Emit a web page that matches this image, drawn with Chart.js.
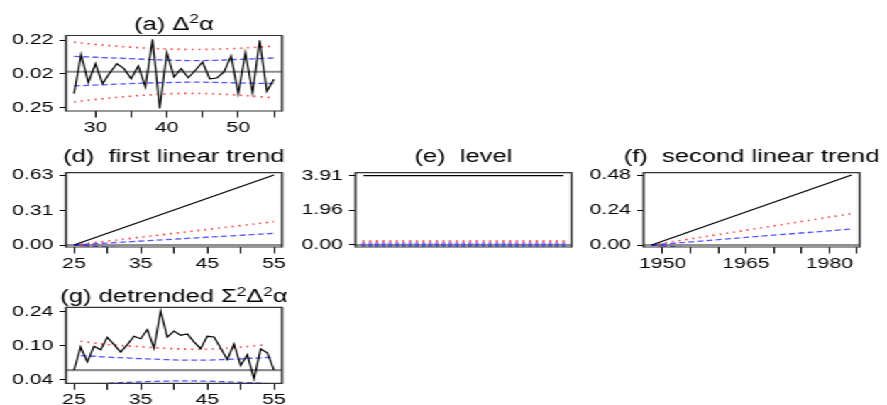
<!DOCTYPE html>
<html><head><meta charset="utf-8">
<script src="https://cdn.jsdelivr.net/npm/chart.js@4.4.1/dist/chart.umd.min.js"></script>
<style>
html,body{margin:0;padding:0;background:#fff;width:887px;height:405px;overflow:hidden}
#wrap{position:absolute;left:0;top:0;width:625px;height:405px;transform-origin:0 0}
#wrap canvas{position:absolute}
</style></head><body><div id="wrap"></div>
<script>
// ---------------- data ----------------
// (a) second differences
const xA = [27,28,29,30,31,32,33,34,35,36,37,38,39,40,41,42,43,44,45,46,47,48,49,50,51,52,53,54,55];
const lineA = [-0.151,0.121,-0.075,0.056,-0.082,-0.008,0.056,0.022,-0.048,0.040,-0.105,0.225,-0.255,0.132,-0.036,0.022,-0.041,0.011,0.068,-0.048,-0.043,-0.001,0.109,-0.151,0.132,-0.146,0.218,-0.135,-0.052];
const redUpA = [0.206,0.200,0.195,0.190,0.186,0.182,0.178,0.174,0.171,0.168,0.165,0.162,0.160,0.158,0.157,0.156,0.155,0.155,0.155,0.156,0.157,0.159,0.161,0.163,0.166,0.169,0.172,0.175,0.178];
const redLoA = [-0.209,-0.203,-0.197,-0.192,-0.187,-0.182,-0.177,-0.173,-0.169,-0.165,-0.162,-0.159,-0.156,-0.153,-0.151,-0.150,-0.150,-0.150,-0.151,-0.152,-0.154,-0.156,-0.159,-0.162,-0.165,-0.169,-0.173,-0.177,-0.181];
const blueUpA = [0.107,0.105,0.103,0.101,0.099,0.097,0.095,0.093,0.091,0.089,0.087,0.085,0.083,0.081,0.080,0.079,0.078,0.078,0.078,0.079,0.080,0.082,0.084,0.086,0.088,0.090,0.092,0.094,0.096];
const blueLoA = [-0.098,-0.096,-0.094,-0.092,-0.090,-0.088,-0.086,-0.084,-0.082,-0.080,-0.078,-0.077,-0.076,-0.075,-0.074,-0.073,-0.072,-0.072,-0.072,-0.073,-0.074,-0.075,-0.076,-0.077,-0.078,-0.079,-0.080,-0.081,-0.082];
const xTicksA = [30,35,40,45,50,55];
const xLabelsA = ['30','','40','','50',''];
const yTicksA = [-0.25,-0.015,0.22];
const yLabelsA = ['0.25','0.02','0.22'];

// (d) first linear trend
const xD = [25,55];
const lineD = [0,0.63];
const redUpD = [0,0.21];
const redLoD = [0,-0.21];
const blueUpD = [0,0.105];
const blueLoD = [0,-0.105];
const xTicksD = [25,30,35,40,45,50,55];
const xLabelsD = ['25','','35','','45','','55'];
const yTicksD = [0,0.31,0.63];
const yLabelsD = ['0.00','0.31','0.63'];

// (e) level
const xLineE = [25,55];
const lineE = [3.91,3.91];
const xE = [25,26,27,28,29,30,31,32,33,34,35,36,37,38,39,40,41,42,43,44,45,46,47,48,49,50,51,52,53,54,55];
const redE = [0.21,0.21,0.21,0.21,0.21,0.21,0.21,0.21,0.21,0.21,0.21,0.21,0.21,0.21,0.21,0.21,0.21,0.21,0.21,0.21,0.21,0.21,0.21,0.21,0.21,0.21,0.21,0.21,0.21,0.21,0.21];
const blueE = [0.01,0.01,0.01,0.01,0.01,0.01,0.01,0.01,0.01,0.01,0.01,0.01,0.01,0.01,0.01,0.01,0.01,0.01,0.01,0.01,0.01,0.01,0.01,0.01,0.01,0.01,0.01,0.01,0.01,0.01,0.01];
const yTicksE = [0,1.96,3.91];
const yLabelsE = ['0.00','1.96','3.91'];

// (f) second linear trend
const xF = [1948,1984];
const lineF = [0,0.48];
const redUpF = [0,0.215];
const redLoF = [0,-0.215];
const blueUpF = [0,0.11];
const blueLoF = [0,-0.11];
const xTicksF = [1950,1955,1960,1965,1970,1975,1980,1985];
const xLabelsF = ['1950','','','1965','','','1980',''];
const yTicksF = [0,0.24,0.48];
const yLabelsF = ['0.00','0.24','0.48'];

// (g) detrended
const xG = [25,26,27,28,29,30,31,32,33,34,35,36,37,38,39,40,41,42,43,44,45,46,47,48,49,50,51,52,53,54,55];
const lineG = [0.000,0.095,0.034,0.098,0.084,0.135,0.105,0.074,0.105,0.139,0.129,0.166,0.091,0.242,0.136,0.160,0.143,0.149,0.116,0.088,0.139,0.136,0.091,0.043,0.108,0.019,0.064,-0.036,0.087,0.071,0.000];
const xRedG = [26,27,28,29,30,31,32,33,34,35,36,37,38,39,40,41,42,43,44,45,46,47,48,49,50,51,52,53,54];
const redUpG = [0.119,0.115,0.112,0.108,0.105,0.103,0.101,0.099,0.098,0.096,0.094,0.092,0.091,0.089,0.088,0.087,0.086,0.086,0.086,0.086,0.087,0.088,0.090,0.092,0.094,0.097,0.100,0.102,0.105];
const redLoG = [-0.119,-0.115,-0.112,-0.108,-0.105,-0.103,-0.101,-0.099,-0.098,-0.096,-0.094,-0.092,-0.091,-0.089,-0.088,-0.087,-0.086,-0.086,-0.086,-0.086,-0.087,-0.088,-0.090,-0.092,-0.094,-0.097,-0.100,-0.102,-0.105];
const xBlueG = [26,27,28,29,30,31,32,33,34,35,36,37,38,39,40,41,42,43,44,45,46,47,48,49,50,51,52,53,54,55];
const blueUpG = [0.060,0.058,0.057,0.055,0.054,0.052,0.051,0.050,0.048,0.047,0.046,0.045,0.044,0.043,0.042,0.041,0.041,0.041,0.041,0.041,0.042,0.043,0.044,0.045,0.046,0.048,0.049,0.050,0.052,0.054];
const blueLoG = [-0.062,-0.060,-0.058,-0.056,-0.054,-0.052,-0.051,-0.050,-0.049,-0.048,-0.047,-0.046,-0.045,-0.045,-0.044,-0.044,-0.044,-0.044,-0.045,-0.045,-0.046,-0.047,-0.048,-0.049,-0.050,-0.051,-0.052,-0.053,-0.055,-0.057];
const xTicksG = [25,30,35,40,45,50,55];
const xLabelsG = ['25','','35','','45','','55'];
const yTicksG = [-0.04,0.10,0.24];
const yLabelsG = ['0.04','0.10','0.24'];

// ---------------- layout / style ----------------
const S = 887/625;               // horizontal stretch of the whole figure
const U = v => v / S;
const YW = 46.5;                 // y-axis band width (unscaled)
const CW = 250;                  // canvas width (unscaled)
const FONT = '"Liberation Sans", Arial, sans-serif';
const wrap = document.getElementById('wrap');
wrap.style.transform = 'scaleX(' + S + ')';

const BLACK = {borderColor:'#000', borderWidth:1.2, pointRadius:0, tension:0, order:0};
const RED = {borderColor:'rgba(255,25,25,0.9)', borderWidth:1.6, borderDash:[1.3,3.6], pointRadius:0, tension:0, order:2};
const BLUE = {borderColor:'rgba(25,25,255,0.75)', borderWidth:1.3, borderDash:[4.2,2.3], pointRadius:0, tension:0, order:1};

function ser(xs, ys, style){
  return Object.assign({data: xs.map((x,i)=>({x:x, y:ys[i]}))}, style);
}

function decoPlugin(title, gap){
  return {
    id:'deco',
    beforeDatasetsDraw(chart){
      const {ctx, chartArea:a, scales:{y}} = chart;
      const py = y.getPixelForValue(0);
      ctx.save();
      ctx.strokeStyle = '#8e8e8e'; ctx.lineWidth = 2.1;
      ctx.beginPath(); ctx.moveTo(a.left, py); ctx.lineTo(a.right, py); ctx.stroke();
      ctx.restore();
    },
    afterDraw(chart){
      const {ctx, chartArea:a} = chart;
      ctx.save();
      ctx.strokeStyle = '#333';
      ctx.lineWidth = 1.2;
      ctx.beginPath();
      ctx.moveTo(a.left, a.top); ctx.lineTo(a.right, a.top);
      ctx.moveTo(a.left, a.bottom); ctx.lineTo(a.right, a.bottom);
      ctx.stroke();
      ctx.lineWidth = 1.6;
      ctx.beginPath();
      ctx.moveTo(a.left, a.top - 0.6); ctx.lineTo(a.left, a.bottom + 0.6);
      ctx.moveTo(a.right, a.top - 0.6); ctx.lineTo(a.right, a.bottom + 0.6);
      ctx.stroke();
      // title (rich text with superscripts)
      const base = a.top - gap, size = 18, sup = 12;
      let w = 0;
      title.forEach(s => { ctx.font = (s.sup ? sup : size) + 'px ' + FONT; w += ctx.measureText(s.t).width; });
      let x = (a.left + a.right) / 2 - w / 2;
      ctx.fillStyle = '#000'; ctx.textAlign = 'left'; ctx.textBaseline = 'alphabetic';
      title.forEach(s => {
        ctx.font = (s.sup ? sup : size) + 'px ' + FONT;
        ctx.fillText(s.t, x, s.sup ? base - 6.5 : base);
        x += ctx.measureText(s.t).width;
      });
      ctx.restore();
    }
  };
}

function makePanel(p){
  const boxL = U(p.boxL), boxR = U(p.boxR);
  const cv = document.createElement('canvas');
  cv.width = CW; cv.height = p.h;
  cv.style.left = (boxL - YW) + 'px'; cv.style.top = p.top + 'px';
  cv.style.width = CW + 'px'; cv.style.height = p.h + 'px';
  wrap.appendChild(cv);
  const padR = CW - YW - (boxR - boxL);
  const xH = p.top + p.h - p.boxB;
  const tickFont = {family: FONT, size: 15};
  const xScale = p.xTicks ? {
    type:'linear', min:p.xMin, max:p.xMax, bounds:'data',
    afterFit(s){ s.height = xH; },
    afterBuildTicks(s){ s.ticks = p.xTicks.map(v => ({value:v})); },
    ticks:{callback:(v,i)=>p.xLabels[i], color:'#000', font:tickFont, padding:1.5, autoSkip:false, maxRotation:0, minRotation:0},
    grid:{drawOnChartArea:false, drawTicks:true, tickLength:6.5, color:'#000', lineWidth:1},
    border:{display:false}
  } : {type:'linear', min:p.xMin, max:p.xMax, bounds:'data', display:false};
  new Chart(cv, {
    type:'line',
    data:{datasets:p.datasets},
    options:{
      responsive:false, animation:false, events:[],
      layout:{padding:{top:p.boxT - p.top, left:0, right:padR, bottom: p.xTicks ? 0 : xH}},
      plugins:{legend:{display:false}, tooltip:{enabled:false}},
      scales:{
        x: xScale,
        y:{type:'linear', min:p.yMin, max:p.yMax, bounds:'data',
           afterFit(s){ s.width = YW; },
           afterBuildTicks(s){ s.ticks = p.yTicks.map(v => ({value:v})); },
           ticks:{callback:(v,i)=>p.yLabels[i], color:'#000', font:tickFont, padding:4.3, autoSkip:false},
           grid:{drawOnChartArea:false, drawTicks:true, tickLength:4.6, color:'#000', lineWidth:1},
           border:{display:false}}
      }
    },
    plugins:[decoPlugin(p.title, p.gap)]
  });
}

makePanel({
  boxL:66, boxR:282, boxT:35.5, boxB:111, top:0, h:135, gap:6,
  title:[{t:'(a) Δ'},{t:'2',sup:true},{t:'α'}],
  xMin:25.88, xMax:56.12, yMin:-0.272, yMax:0.252,
  xTicks:xTicksA, xLabels:xLabelsA, yTicks:yTicksA, yLabels:yLabelsA,
  datasets:[ser(xA,lineA,BLACK), ser(xA,blueUpA,BLUE), ser(xA,blueLoA,BLUE), ser(xA,redUpA,RED), ser(xA,redLoA,RED)]
});
makePanel({
  boxL:66, boxR:282, boxT:172.7, boxB:247, top:135, h:135, gap:10.5,
  title:[{t:'(d)  first linear trend'}],
  xMin:23.8, xMax:56.2, yMin:-0.018, yMax:0.651,
  xTicks:xTicksD, xLabels:xLabelsD, yTicks:yTicksD, yLabels:yLabelsD,
  datasets:[ser(xD,lineD,BLACK), ser(xD,blueUpD,BLUE), ser(xD,blueLoD,BLUE), ser(xD,redUpD,RED), ser(xD,redLoD,RED)]
});
makePanel({
  boxL:355, boxR:571, boxT:172.7, boxB:247, top:135, h:135, gap:10.5,
  title:[{t:'(e)  level'}],
  xMin:23.8, xMax:56.2, yMin:-0.113, yMax:4.08,
  xTicks:null, yTicks:yTicksE, yLabels:yLabelsE,
  datasets:[
    ser(xLineE,lineE,BLACK),
    ser(xE,blueE,{showLine:false, pointStyle:'line', pointRotation:90, pointRadius:2.2, pointBorderWidth:2.8, pointBorderColor:'rgba(40,40,255,0.6)', borderColor:'rgba(40,40,255,0.6)', order:1}),
    ser(xE,redE,{showLine:false, pointStyle:'line', pointRotation:90, pointRadius:1.1, pointBorderWidth:1.4, pointBorderColor:'rgba(255,20,20,0.85)', borderColor:'rgba(255,20,20,0.85)', order:2})
  ]
});
makePanel({
  boxL:643, boxR:859, boxT:172.7, boxB:247, top:135, h:135, gap:10.5,
  title:[{t:'(f)  second linear trend'}],
  xMin:1946.56, xMax:1985.44, yMin:-0.0137, yMax:0.496,
  xTicks:xTicksF, xLabels:xLabelsF, yTicks:yTicksF, yLabels:yLabelsF,
  datasets:[ser(xF,lineF,BLACK), ser(xF,blueUpF,BLUE), ser(xF,blueLoF,BLUE), ser(xF,redUpF,RED), ser(xF,redLoF,RED)]
});
makePanel({
  boxL:66, boxR:282, boxT:307.3, boxB:383.3, top:270, h:135, gap:5.1,
  title:[{t:'(g) detrended Σ'},{t:'2',sup:true},{t:'Δ'},{t:'2',sup:true},{t:'α'}],
  xMin:23.8, xMax:56.2, yMin:-0.054, yMax:0.258,
  xTicks:xTicksG, xLabels:xLabelsG, yTicks:yTicksG, yLabels:yLabelsG,
  datasets:[ser(xG,lineG,BLACK), ser(xBlueG,blueUpG,BLUE), ser(xBlueG,blueLoG,BLUE), ser(xRedG,redUpG,RED), ser(xRedG,redLoG,RED)]
});
</script>
</body></html>
